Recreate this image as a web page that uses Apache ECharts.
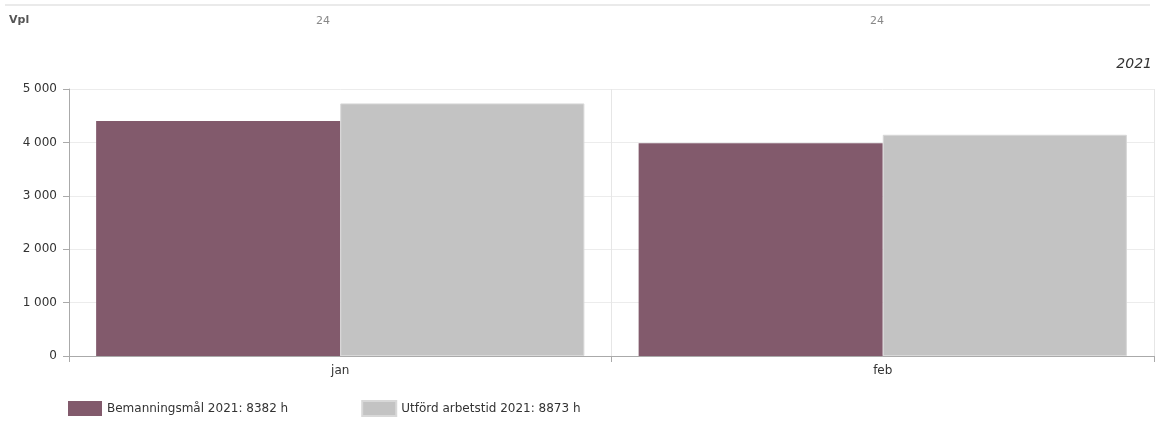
<!DOCTYPE html>
<html><head><meta charset="utf-8">
<script src="https://cdn.jsdelivr.net/npm/echarts@6/dist/echarts.min.js"></script>
<style>html,body{margin:0;padding:0;background:#fff}#c{width:1158px;height:421px}</style>
</head><body><div id="c"></div>
<script>
var categories = ['jan', 'feb'];
var vplValues = ['24', '24'];
var bemanning = [4400, 3982];
var utford = [4730, 4143];
var seriesNames = ['Bemanningsmål 2021: 8382 h', 'Utförd arbetstid 2021: 8873 h'];
var yearLabel = '2021';
var vplLabelX = [323, 877];

var chart = echarts.init(document.getElementById('c'));
var font = 'DejaVu Sans';
var graphics = [
  {type: 'line', shape: {x1: 5, y1: 5, x2: 1150, y2: 5}, style: {stroke: '#e3e3e3', lineWidth: 1.5}},
  {type: 'text', left: 9, top: 15, style: {text: 'Vpl', font: 'bold 11px ' + font, fill: '#555'}},
  {type: 'text', right: 6, top: 57, style: {text: yearLabel, font: 'italic 14px ' + font, fill: '#333'}}
];
vplValues.forEach(function (v, i) {
  graphics.push({type: 'text', x: vplLabelX[i], y: 21,
    style: {text: v, font: '11px ' + font, fill: '#888', textAlign: 'center', textVerticalAlign: 'middle'}});
});
chart.setOption({
  animation: false,
  textStyle: {fontFamily: font},
  grid: {left: 69, right: 4, top: 89, bottom: 65},
  graphic: graphics,
  legend: {
    left: 63, top: 395, itemWidth: 34, itemHeight: 15, itemGap: 73,
    icon: 'rect',
    textStyle: {fontFamily: font, fontSize: 12, color: '#333'},
    data: seriesNames
  },
  xAxis: {
    type: 'category', data: categories,
    axisLine: {lineStyle: {color: '#aaa'}},
    axisTick: {show: true, length: 6, lineStyle: {color: '#aaa'}},
    axisLabel: {color: '#333', fontSize: 12, margin: 9, fontFamily: font},
    splitLine: {show: true, lineStyle: {color: '#e6e6e6'}}
  },
  yAxis: {
    type: 'value', min: 0, max: 5000, interval: 1000,
    axisLine: {show: true, lineStyle: {color: '#aaa'}},
    axisTick: {show: true, length: 6, lineStyle: {color: '#aaa'}},
    axisLabel: {color: '#333', fontSize: 12, margin: 12, fontFamily: font,
      formatter: function (v) { return String(v).replace(/\B(?=(\d{3})+(?!\d))/g, ' '); }},
    splitLine: {lineStyle: {color: '#ececec'}}
  },
  series: [
    {name: seriesNames[0], type: 'bar', data: bemanning, barGap: '0%', barCategoryGap: '10%',
      itemStyle: {color: '#825a6c'}},
    {name: seriesNames[1], type: 'bar', data: utford,
      itemStyle: {color: '#c3c3c3', borderColor: '#d8d8d8', borderWidth: 1}}
  ]
});
</script></body></html>
